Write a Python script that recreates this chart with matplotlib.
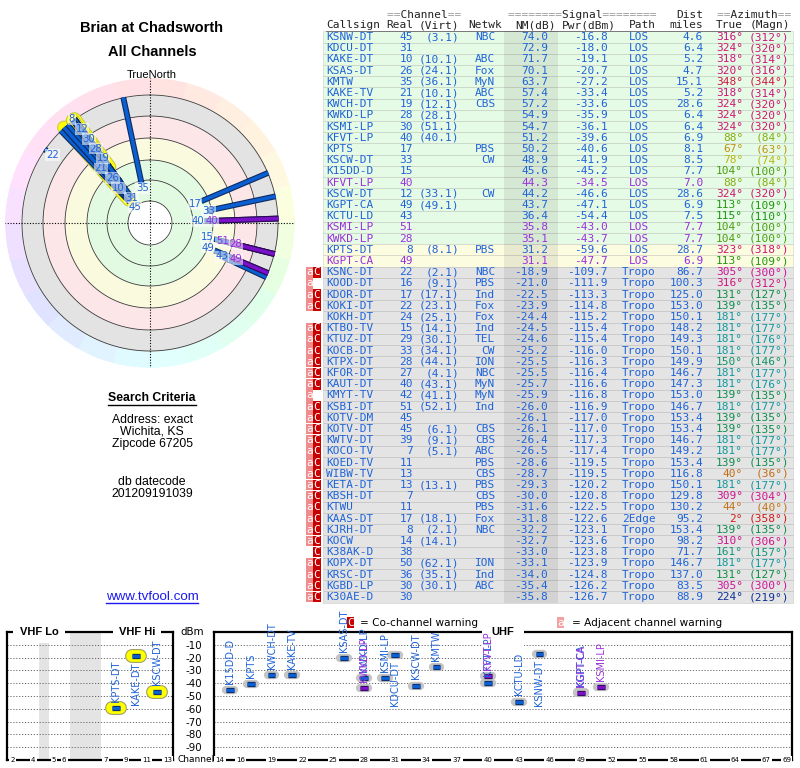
import numpy as np
import matplotlib
matplotlib.use('Agg')
import matplotlib.pyplot as plt
import matplotlib.patheffects as pe
from matplotlib.patches import Rectangle
from matplotlib.colors import hsv_to_rgb

plt.rcParams['axes.unicode_minus'] = False

# ---- data (tvfool signal report) ----
callsign = ['KSNW-DT', 'KDCU-DT', 'KAKE-DT', 'KSAS-DT', 'KMTW', 'KAKE-TV', 'KWCH-DT', 'KWKD-LP', 'KSMI-LP',
            'KFVT-LP', 'KPTS', 'KSCW-DT', 'K15DD-D', 'KFVT-LP', 'KSCW-DT', 'KGPT-CA', 'KCTU-LD', 'KSMI-LP',
            'KWKD-LP', 'KPTS-DT', 'KGPT-CA',
            'KSNC-DT', 'KOOD-DT', 'KDOR-DT', 'KOKI-DT', 'KOKH-DT', 'KTBO-TV', 'KTUZ-DT', 'KOCB-DT', 'KTPX-DT',
            'KFOR-DT', 'KAUT-DT', 'KMYT-TV', 'KSBI-DT', 'KOTV-DM', 'KOTV-DT', 'KWTV-DT', 'KOCO-TV', 'KOED-TV',
            'WIBW-TV', 'KETA-DT', 'KBSH-DT', 'KTWU', 'KAAS-DT', 'KJRH-DT', 'KOCW', 'K38AK-D', 'KOPX-DT',
            'KRSC-DT', 'KGBD-LP', 'K30AE-D']
real = [45, 31, 10, 26, 35, 21, 19, 28, 30, 40, 17, 33, 15, 40, 12, 49, 43, 51, 28, 8, 49,
        22, 16, 17, 22, 24, 15, 29, 33, 28, 27, 40, 42, 51, 45, 45, 39, 7, 11, 13, 13, 7, 11, 17, 8, 14, 38,
        50, 36, 30, 30]
virt = ['3.1', '', '10.1', '24.1', '36.1', '10.1', '12.1', '28.1', '51.1', '40.1', '', '', '', '', '33.1',
        '49.1', '', '', '', '8.1', '',
        '2.1', '9.1', '17.1', '23.1', '25.1', '14.1', '30.1', '34.1', '44.1', '4.1', '43.1', '41.1', '52.1',
        '', '6.1', '9.1', '5.1', '', '', '13.1', '', '', '18.1', '2.1', '14.1', '', '62.1', '35.1', '30.1', '']
netwk = ['NBC', '', 'ABC', 'Fox', 'MyN', 'ABC', 'CBS', '', '', '', 'PBS', 'CW', '', '', 'CW', '', '', '', '',
         'PBS', '',
         'NBC', 'PBS', 'Ind', 'Fox', 'Fox', 'Ind', 'TEL', 'CW', 'ION', 'NBC', 'MyN', 'MyN', 'Ind', '', 'CBS',
         'CBS', 'ABC', 'PBS', 'CBS', 'PBS', 'CBS', 'PBS', 'Fox', 'NBC', '', '', 'ION', 'Ind', 'ABC', '']
nm_db = [74.0, 72.9, 71.7, 70.1, 63.7, 57.4, 57.2, 54.9, 54.7, 51.2, 50.2, 48.9, 45.6, 44.3, 44.2, 43.7,
         36.4, 35.8, 35.1, 31.2, 31.1,
         -18.9, -21.0, -22.5, -23.9, -24.4, -24.5, -24.6, -25.2, -25.5, -25.5, -25.7, -25.9, -26.0, -26.1,
         -26.1, -26.4, -26.5, -28.6, -28.7, -29.3, -30.0, -31.6, -31.8, -32.2, -32.7, -33.0, -33.1, -34.0,
         -35.4, -35.8]
pwr_dbm = [-16.8, -18.0, -19.1, -20.7, -27.2, -33.4, -33.6, -35.9, -36.1, -39.6, -40.6, -41.9, -45.2, -34.5,
           -46.6, -47.1, -54.4, -43.0, -43.7, -59.6, -47.7,
           -109.7, -111.9, -113.3, -114.8, -115.2, -115.4, -115.4, -116.0, -116.3, -116.4, -116.6, -116.8,
           -116.9, -117.0, -117.0, -117.3, -117.4, -119.5, -119.5, -120.2, -120.8, -122.5, -122.6, -123.1,
           -123.6, -123.8, -123.9, -124.8, -126.2, -126.7]
path = ['LOS', 'LOS', 'LOS', 'LOS', 'LOS', 'LOS', 'LOS', 'LOS', 'LOS', 'LOS', 'LOS', 'LOS', 'LOS', 'LOS',
        'LOS', 'LOS', 'LOS', 'LOS', 'LOS', 'LOS', 'LOS',
        'Tropo', 'Tropo', 'Tropo', 'Tropo', 'Tropo', 'Tropo', 'Tropo', 'Tropo', 'Tropo', 'Tropo', 'Tropo',
        'Tropo', 'Tropo', 'Tropo', 'Tropo', 'Tropo', 'Tropo', 'Tropo', 'Tropo', 'Tropo', 'Tropo', 'Tropo',
        '2Edge', 'Tropo', 'Tropo', 'Tropo', 'Tropo', 'Tropo', 'Tropo', 'Tropo']
dist = [4.6, 6.4, 5.2, 4.7, 15.1, 5.2, 28.6, 6.4, 6.4, 6.9, 8.1, 8.5, 7.7, 7.0, 28.6, 6.9, 7.5, 7.7, 7.7,
        28.7, 6.9,
        86.7, 100.3, 125.0, 153.0, 150.1, 148.2, 149.3, 150.1, 149.9, 146.7, 147.3, 153.0, 146.7, 153.4,
        153.4, 146.7, 149.2, 153.4, 116.8, 150.1, 129.8, 130.2, 95.2, 153.4, 98.2, 71.7, 146.7, 137.0, 83.5,
        88.9]
az_true = [316, 324, 318, 320, 348, 318, 324, 324, 324, 88, 67, 78, 104, 88, 324, 113, 115, 104, 104, 323,
           113,
           305, 316, 131, 139, 181, 181, 181, 181, 150, 181, 181, 139, 181, 139, 139, 181, 181, 139, 40, 181,
           309, 44, 2, 139, 310, 161, 181, 131, 305, 224]
az_magn = [312, 320, 314, 316, 344, 314, 320, 320, 320, 84, 63, 74, 100, 84, 320, 109, 110, 100, 100, 318,
           109,
           300, 312, 127, 135, 177, 177, 176, 177, 146, 177, 176, 135, 177, 135, 135, 177, 177, 135, 36, 177,
           304, 40, 358, 135, 306, 157, 177, 127, 300, 219]
secondary = [False, False, False, False, False, False, False, False, False, False, False, False, False, True,
             False, False, False, True, True, False, True] + [False] * 30
warn = [''] * 21 + ['aC', 'a', 'aC', 'aC', '', 'aC', 'aC', 'aC', 'aC', 'aC', 'aC', 'a', 'aC', 'aC', 'aC',
                    'aC', 'aC', 'aC', 'aC', 'aC', 'aC', 'aC', 'aC', 'aC', 'aC', 'C', 'aC', 'aC', 'aC', 'aC']

vhf_ticks = [2, 4, 5, 6, 7, 9, 11, 13]
uhf_ticks = [14, 16, 19, 22, 25, 28, 31, 34, 37, 40, 43, 46, 49, 52, 55, 58, 61, 64, 67, 69]
dbm_ticks = [-90, -80, -70, -60, -50, -40, -30, -20, -10]

BLUE = '#1f63d8'
PURPLE = '#9a30dc'
n = len(callsign)


def az_hue(a):
    return np.interp(a, [0, 40, 67, 88, 104, 131, 181, 224, 305, 324, 348, 360],
                     [0, 30, 45, 75, 95, 145, 182, 225, 318, 330, 345, 360]) / 360.0


def az_color(a):
    h = az_hue(a)
    v = np.interp(h * 360, [0, 60, 100, 150, 180, 230, 300, 360], [0.82, 0.72, 0.6, 0.55, 0.62, 0.58, 0.8, 0.82])
    return hsv_to_rgb([h, 0.9, v])


fig = plt.figure(figsize=(8, 7.68), dpi=100)
ax = fig.add_axes([0, 0, 1, 1])
ax.set_xlim(0, 800)
ax.set_ylim(768, 0)
ax.axis('off')

# ---- table ----
row_h = 11.2
y0 = 37
mono = dict(family='DejaVu Sans Mono', fontsize=8, va='center')


def two_tone(x, y, s):
    ax.text(x, y, ''.join(c if c == '=' else ' ' for c in s), color='#9a9a9a', ha='left', **mono)
    ax.text(x, y, ''.join(' ' if c == '=' else c for c in s), color='#222222', ha='left', **mono)


two_tone(387, 15, '==Channel==')
two_tone(508, 15, '========Signal========')
ax.text(703, 15, 'Dist', color='#222222', ha='right', **mono)
two_tone(717, 15, '==Azimuth==')
for xx, s, al in [(326, 'Callsign', 'left'), (413, 'Real', 'right'), (459, '(Virt)', 'right'),
                  (468, 'Netwk', 'left'), (515, 'NM(dB)', 'left'), (562, 'Pwr(dBm)', 'left'),
                  (629, 'Path', 'left'), (703, 'miles', 'right'), (743, 'True', 'right'),
                  (790, '(Magn)', 'right')]:
    ax.text(xx, 25.5, s, color='#222222', ha=al, **mono)
ax.plot([326, 790], [31.2, 31.2], color='#666666', lw=0.6)

for i in range(n):
    y = y0 + i * row_h
    if nm_db[i] >= 35:
        bg = '#e6fbe6'
    elif nm_db[i] > 0:
        bg = '#fcfce0'
    else:
        bg = '#e4e4e4'
    ax.add_patch(Rectangle((323, y - row_h / 2), 470, row_h, fc=bg, ec=(0, 0, 0, 0.13), lw=0.5, zorder=1))
    c = PURPLE if secondary[i] else BLUE
    ax.text(326, y, callsign[i], color=c, ha='left', **mono)
    ax.text(413, y, str(real[i]), color=c, ha='right', **mono)
    if virt[i]:
        ax.text(459, y, '(%s)' % virt[i], color=c, ha='right', **mono)
    if netwk[i]:
        ax.text(495, y, netwk[i], color=c, ha='right', **mono)
    ax.text(548, y, '%.1f' % nm_db[i], color=c, ha='right', **mono)
    ax.text(608, y, '%.1f' % pwr_dbm[i], color=c, ha='right', **mono)
    ax.text(639, y, path[i], color=c, ha='center', **mono)
    ax.text(703, y, '%.1f' % dist[i], color=c, ha='right', **mono)
    ax.text(743, y, '%d\u00b0' % az_true[i], color=az_color(az_true[i]), ha='right', **mono)
    ax.text(789, y, '(%d\u00b0)' % az_magn[i], color=az_color(az_true[i]), ha='right', **mono)
    if 'a' in warn[i]:
        ax.add_patch(Rectangle((305.5, y - row_h / 2 + 0.3), 7.6, row_h - 0.6, fc='#f08c8c', ec='none'))
        ax.text(309.3, y, 'a', color='white', ha='center', **mono)
    if 'C' in warn[i]:
        ax.add_patch(Rectangle((313.2, y - row_h / 2 + 0.3), 7.6, row_h - 0.6, fc='#c80000', ec='none'))
        ax.text(317.0, y, 'C', color='white', ha='center', **mono)
ax.add_patch(Rectangle((504, y0 - row_h / 2), 54, row_h * n, fc='black', alpha=0.075, ec='none', zorder=2))

# ---- left side texts ----
sans = 'Liberation Sans'
ax.text(152, 28, 'Brian at Chadsworth', ha='center', va='center', family=sans, weight='bold', fontsize=10.5)
ax.text(152, 52, 'All Channels', ha='center', va='center', family=sans, weight='bold', fontsize=10.5)
ax.text(152, 75, 'TrueNorth', ha='center', va='center', family=sans, fontsize=8)
t_sc = ax.text(152, 398, 'Search Criteria', ha='center', va='center', family=sans, weight='bold', fontsize=8.8)
for yy, s in [(420, 'Address: exact'), (432, 'Wichita, KS'), (444, 'Zipcode 67205'),
              (482, 'db datecode'), (494, '201209191039')]:
    ax.text(152, yy, s, ha='center', va='center', family=sans, fontsize=8.8)
t_url = ax.text(152, 597, 'www.tvfool.com', ha='center', va='center', family=sans, fontsize=9.6, color='#1a1aee')

fig.canvas.draw()
inv = ax.transData.inverted()
for t, yy, col in [(t_sc, 405, 'black'), (t_url, 603, '#1a1aee')]:
    bb = t.get_window_extent()
    (xa, _), (xb, _) = inv.transform([[bb.x0, bb.y0], [bb.x1, bb.y1]])
    ax.plot([xa, xb], [yy, yy], color=col, lw=1.0)

# ---- polar plot ----
cx, cy, R = 150, 223, 145
pax = fig.add_axes([(cx - R) / 800, (768 - cy - R) / 768, 2 * R / 800, 2 * R / 768], projection='polar')
pax.set_theta_zero_location('N')
pax.set_theta_direction(-1)
pax.set_rlim(0, R)
pax.axis('off')

th = np.linspace(0, 2 * np.pi, 361)
wedge_az = np.arange(0, 360, 15) + 7.5
for a in wedge_az:
    pax.bar(np.radians(a), R - 128, width=np.radians(15.5), bottom=128,
            color=hsv_to_rgb([az_hue(a), 0.12, 1.0]), edgecolor='none', zorder=1)
for r0, r1, col in [(22, 63, '#e2fae2'), (63, 85, '#fafadf'), (85, 107, '#fce6e8'), (107, 128, '#e3e3e3')]:
    pax.fill_between(th, r0, r1, color=col, lw=0, zorder=1)
pax.fill_between(th, 0, 22, color='white', lw=0, zorder=1)
for rr in [22, 43, 63, 85, 107, 128]:
    pax.plot(th, np.full_like(th, rr), color='#3a3a3a', lw=0.6, zorder=2)
for a in [0, 90, 180, 270]:
    pax.plot([np.radians(a)] * 2, [0, R], color='black', lw=0.8, ls=(0, (1, 1.5)), zorder=2)
ax.text(164, 89, 'N', ha='center', va='center', color='#dd0000', fontsize=8, zorder=10)


def nm_radius(v):
    return np.interp(v, [-20, 0, 31, 44, 50, 64, 80], [127, 110, 88.6, 69.5, 56, 40, 22])


vis = [i for i in range(n) if nm_db[i] >= -20]
# yellow glow behind VHF lines
for i in vis:
    if real[i] <= 13:
        t = np.radians(az_true[i])
        pax.plot([t, t], [nm_radius(nm_db[i]), 128.5], color='yellow', lw=2.5, zorder=3,
                 path_effects=[pe.Stroke(linewidth=10, foreground='#c8c850', capstyle='round'),
                               pe.Stroke(linewidth=8.5, foreground='#ffff00', capstyle='round')])
for i in vis:
    t = np.radians(az_true[i])
    col, dark = ('#7a10c8', '#2c0a55') if secondary[i] else ('#0b5fd0', '#0e2a62')
    pax.plot([t, t], [nm_radius(nm_db[i]), 128.5], color=col, lw=2.6, solid_capstyle='butt', zorder=4,
             path_effects=[pe.Stroke(linewidth=4.2, foreground=dark), pe.Normal()])

# channel labels with simple collision push outward
placed = []
lab_r = {}
for i in sorted(vis, key=lambda k: nm_radius(nm_db[k])):
    t = np.radians(az_true[i])
    s = str(real[i])
    w = 6.2 * len(s) + 1
    rr = nm_radius(nm_db[i]) - 7
    while any(abs(rr * np.sin(t) - px) < (w + pw) / 2 and abs(rr * np.cos(t) - py) < 9.5
              for px, py, pw in placed):
        rr += 0.5
    placed.append((rr * np.sin(t), rr * np.cos(t), w))
    lab_r[i] = rr
for i in vis:
    t = np.radians(az_true[i])
    pax.text(t, lab_r[i], str(real[i]), ha='center', va='center', fontsize=7.3,
             color=PURPLE if secondary[i] else BLUE, zorder=6,
             bbox=dict(boxstyle='square,pad=0.08', fc='white', ec='none', alpha=0.55))

# ---- spectrum chart ----
def vhf_slot(ch):
    return np.interp(ch, [2, 4, 5, 6, 7, 13], [0, 2, 4, 5, 9, 15])


ax_v = fig.add_axes([7 / 800, 8 / 768, 166 / 800, 128 / 768])
ax_u = fig.add_axes([214 / 800, 8 / 768, 578 / 800, 128 / 768])
ax_v.set_xlim(-0.55, 15.55)
ax_u.set_xlim(13.42, 69.5)
for a in (ax_v, ax_u):
    a.set_ylim(-100, 0)
    a.set_yticks(dbm_ticks)
    a.set_xticks([])
    a.yaxis.grid(True, ls=(0, (1.2, 1.8)), color='#666666', lw=0.7)
    a.set_axisbelow(True)
    for sp in a.spines.values():
        sp.set_linewidth(1.6)
    a.tick_params(axis='y', length=0)
ax_v.tick_params(axis='y', labelleft=False)
ax_u.tick_params(axis='y', labelsize=7.4, pad=8.6)
ax_v.axvspan(2.55, 3.5, color='#e4e4e4', lw=0, zorder=0)
ax_v.axvspan(5.57, 8.58, color='#e4e4e4', lw=0, zorder=0)

hdr = dict(ha='center', va='center', family=sans, weight='bold', fontsize=8, clip_on=False, zorder=6)
ax_v.text(0.193, 1.0, 'VHF Lo', transform=ax_v.transAxes,
          bbox=dict(fc='white', ec='none', pad=4.5), **hdr)
ax_v.text(0.783, 1.0, 'VHF Hi', transform=ax_v.transAxes,
          bbox=dict(fc='white', ec='none', pad=4.5), **hdr)
ax_u.text(0.5, 1.0, 'UHF', transform=ax_u.transAxes,
          bbox=dict(fc='white', ec='none', pad=7), **hdr)

tk = dict(ha='center', va='center', fontsize=5, clip_on=False, zorder=6,
          bbox=dict(fc='white', ec='none', pad=0.8))
for ch in vhf_ticks:
    ax_v.text(vhf_slot(ch), -100, str(ch), **tk)
for ch in uhf_ticks:
    ax_u.text(ch, -100, str(ch), **tk)
ax.text(196, 760, 'Channel', ha='center', va='center', fontsize=6.5)
ax.text(192, 632, 'dBm', ha='center', va='center', fontsize=7.4)

for i in range(n):
    if nm_db[i] <= 0:
        continue
    ch = real[i]
    a = ax_v if ch <= 13 else ax_u
    x = vhf_slot(ch) if ch <= 13 else ch
    col, dark = ('#7a10c8', '#2c0a55') if secondary[i] else ('#0b5fd0', '#0e2a62')
    if ch <= 13:
        effects = [pe.Stroke(linewidth=10, foreground='#9a9a60', capstyle='round'),
                   pe.Stroke(linewidth=8.5, foreground='#ffff00', capstyle='round'),
                   pe.Stroke(linewidth=3.8, foreground=dark), pe.Normal()]
    else:
        effects = [pe.Stroke(linewidth=6, foreground='#c4c4c4', capstyle='round'),
                   pe.Stroke(linewidth=3.8, foreground=dark), pe.Normal()]
    a.plot([x - 0.38, x + 0.38], [pwr_dbm[i], pwr_dbm[i]], color=col, lw=2.4, solid_capstyle='butt',
           zorder=4, path_effects=effects)
    above = pwr_dbm[i] <= -20
    a.annotate(callsign[i], (x, pwr_dbm[i]), xytext=(0, 4.5 if above else -4.5), textcoords='offset points',
               rotation=90, ha='center', va='bottom' if above else 'top', fontsize=7,
               color=PURPLE if secondary[i] else BLUE, annotation_clip=False, zorder=7)

# warning legend
ax.add_patch(Rectangle((347, 617), 6.6, 11, fc='#c80000', ec='none'))
ax.text(350.3, 622.5, 'C', color='white', ha='center', **mono)
ax.text(360, 622.5, '= Co-channel warning', ha='left', va='center', fontsize=7.6)
ax.add_patch(Rectangle((557, 617), 6.6, 11, fc='#f4a0a0', ec='none'))
ax.text(560.3, 622.5, 'a', color='white', ha='center', **mono)
ax.text(572, 622.5, '= Adjacent channel warning', ha='left', va='center', fontsize=7.6)

fig.savefig('out.png', dpi=100)
